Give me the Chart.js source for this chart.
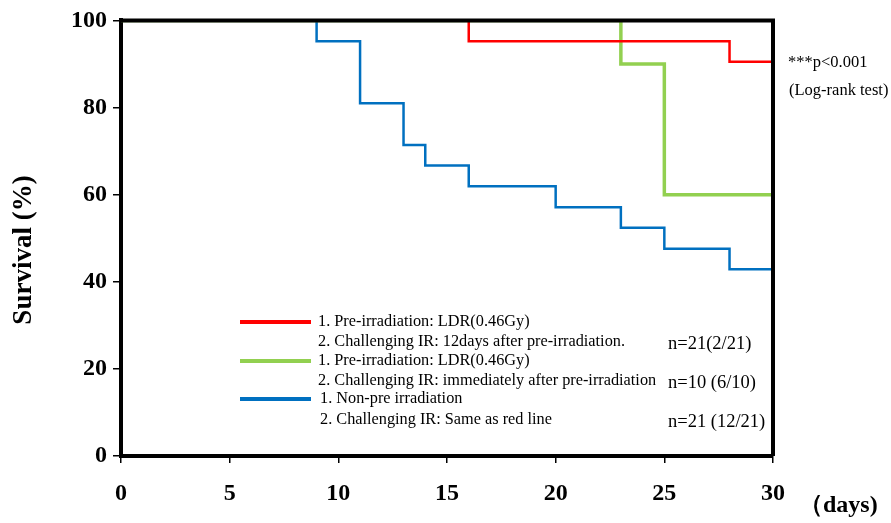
<!DOCTYPE html>
<html>
<head>
<meta charset="utf-8">
<script src="https://cdn.jsdelivr.net/npm/chart.js@4/dist/chart.umd.min.js"></script>
<style>
  html, body { margin: 0; padding: 0; background: #fff; }
  #wrap { width: 891px; height: 523px; }
</style>
</head>
<body>
<div id="wrap"><canvas id="survChart"></canvas></div>
<script>
// Survival curves (Kaplan-Meier style steps), days vs % survival
const redDays   = [0, 16, 28, 30];
const redSurv   = [100, 95.2, 90.5, 90.5];
const greenDays = [0, 23, 25, 30];
const greenSurv = [100, 90, 60, 60];
const blueDays  = [0, 9, 11, 13, 14, 16, 20, 23, 25, 28, 30];
const blueSurv  = [100, 95.2, 81.0, 71.4, 66.7, 61.9, 57.1, 52.4, 47.6, 42.9, 42.9];

// Legend text, one group per series
const legendLines = [
    ['1. Pre-irradiation: LDR(0.46Gy)', '2. Challenging IR: 12days after pre-irradiation.'],
    ['1. Pre-irradiation: LDR(0.46Gy)', '2. Challenging IR: immediately after pre-irradiation'],
    ['1. Non-pre irradiation', '2. Challenging IR: Same as red line']
];
const legendCounts = ['n=21(2/21)', 'n=10 (6/10)', 'n=21 (12/21)'];
const statLines = ['***p<0.001', '(Log-rank test)'];
const yTitle = 'Survival (%)';
const xUnit = '\uFF08days)';

const colors = ['#ff0000', '#92d050', '#0070c0'];
const widths = [2.5, 3.5, 2.5];
const serif = '"Liberation Serif", "Times New Roman", serif';

function toPoints(xs, ys) {
    return xs.map((x, i) => ({ x: x, y: ys[i] }));
}

// Frame, legend box, axis title and side notes
const extrasPlugin = {
    id: 'extras',
    afterDatasetsDraw(chart) {
        const ctx = chart.ctx;
        const a = chart.chartArea;
        ctx.save();
        // top and right frame
        ctx.strokeStyle = '#000';
        ctx.lineWidth = 4;
        ctx.beginPath();
        ctx.moveTo(a.left - 2, a.top);
        ctx.lineTo(a.right, a.top);
        ctx.lineTo(a.right, a.bottom);
        ctx.stroke();

        // legend
        const rowY = [[322, 342], [361, 381], [399, 420]];
        const textX = [318, 318, 320];
        ctx.textBaseline = 'middle';
        ctx.textAlign = 'left';
        ctx.fillStyle = '#000';
        for (let i = 0; i < 3; i++) {
            ctx.strokeStyle = colors[i];
            ctx.lineWidth = 4;
            ctx.beginPath();
            ctx.moveTo(240, rowY[i][0]);
            ctx.lineTo(311, rowY[i][0]);
            ctx.stroke();
            ctx.font = '16.3px ' + serif;
            ctx.fillText(legendLines[i][0], textX[i], rowY[i][0]);
            ctx.fillText(legendLines[i][1], textX[i], rowY[i][1]);
            ctx.font = '18.5px ' + serif;
            ctx.fillText(legendCounts[i], 668, rowY[i][1] + 2);
        }

        // stats note
        ctx.font = '16.5px ' + serif;
        ctx.fillText(statLines[0], 788, 63);
        ctx.fillText(statLines[1], 789, 91);

        // x unit
        ctx.font = 'bold 24px ' + serif;
        ctx.fillText(xUnit, 799, 506);

        // y title
        ctx.translate(24, 250);
        ctx.rotate(-Math.PI / 2);
        ctx.textAlign = 'center';
        ctx.font = 'bold 27px ' + serif;
        ctx.fillText(yTitle, 0, 0);
        ctx.restore();
    }
};

const tickFont = { family: serif, size: 24, weight: 'bold' };

new Chart(document.getElementById('survChart').getContext('2d'), {
    type: 'line',
    data: {
        datasets: [
            { label: 'red', data: toPoints(redDays, redSurv) },
            { label: 'green', data: toPoints(greenDays, greenSurv) },
            { label: 'blue', data: toPoints(blueDays, blueSurv) }
        ].map((d, i) => Object.assign(d, {
            borderColor: colors[i],
            backgroundColor: colors[i],
            borderWidth: widths[i],
            pointRadius: 0,
            stepped: true,
            fill: false
        }))
    },
    options: {
        responsive: true,
        maintainAspectRatio: false,
        animation: false,
        layout: { padding: { top: 19, right: 118, left: 0, bottom: 0 } },
        scales: {
            x: {
                type: 'linear',
                min: 0,
                max: 30,
                afterFit: (s) => { s.height = 67; },
                grid: { display: true, drawOnChartArea: false, drawTicks: true, tickLength: 7, color: '#000', lineWidth: 1.5 },
                border: { display: true, color: '#000', width: 4 },
                ticks: { stepSize: 5, color: '#000', font: tickFont, padding: 16, maxRotation: 0 }
            },
            y: {
                min: 0,
                max: 100,
                afterFit: (s) => { s.width = 121; },
                grid: { display: true, drawOnChartArea: false, drawTicks: true, tickLength: 8, color: '#000', lineWidth: 1.5 },
                border: { display: true, color: '#000', width: 4 },
                ticks: { stepSize: 20, color: '#000', font: tickFont, padding: 6 }
            }
        },
        plugins: {
            legend: { display: false },
            tooltip: { enabled: false }
        }
    },
    plugins: [extrasPlugin]
});
</script>
</body>
</html>
